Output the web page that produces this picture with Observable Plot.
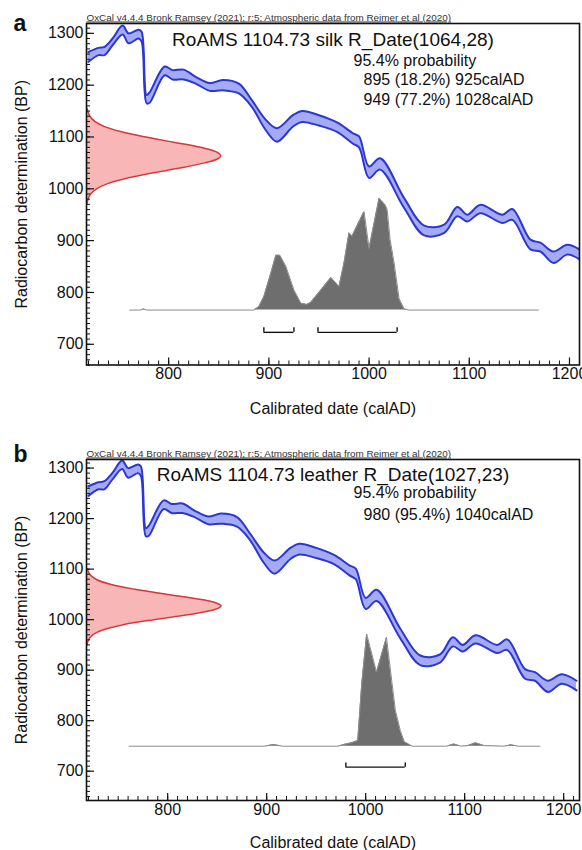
<!DOCTYPE html>
<html>
<head>
<meta charset="utf-8">
<script src="https://cdn.jsdelivr.net/npm/d3@7"></script>
<script src="https://cdn.jsdelivr.net/npm/@observablehq/plot@0.6"></script>
<style>
  body { margin: 0; background: #fff; }
  #chart svg { display: block; }
</style>
</head>
<body>
<div id="chart"></div>
<script>
// ---- IntCal20 calibration curve (band edges, BP) ----
const calYears = [720, 730, 736, 744, 754, 760, 770, 773, 778, 781, 796, 804, 815, 827, 841, 854, 870, 883, 897, 908, 924, 933, 950, 968, 984, 990, 1000, 1011, 1035, 1055, 1075, 1088, 1098, 1111, 1133, 1143, 1161, 1171, 1184, 1198, 1213];
const calUpper = [1264, 1272, 1274, 1290, 1315, 1300, 1307, 1303, 1181, 1186, 1236, 1229, 1230, 1216, 1204, 1210, 1203, 1171, 1133, 1117, 1142, 1150, 1142, 1128, 1107, 1101, 1043, 1059, 982, 929, 931, 965, 950, 969, 950, 961, 902, 896, 879, 892, 879];
const calLower = [1245, 1258, 1258, 1277, 1298, 1281, 1290, 1284, 1165, 1166, 1219, 1211, 1211, 1203, 1189, 1190, 1184, 1158, 1113, 1091, 1120, 1129, 1122, 1110, 1087, 1080, 1021, 1037, 963, 910, 915, 947, 937, 953, 934, 940, 883, 879, 857, 873, 860];

// ---- axis ticks ----
const xTickLabels = [800, 900, 1000, 1100, 1200];
const yTickLabels = [700, 800, 900, 1000, 1100, 1200, 1300];

const header = "OxCal v4.4.4 Bronk Ramsey (2021); r:5; Atmospheric data from Reimer et al (2020)";
const xTitle = "Calibrated date (calAD)";
const yTitle = "Radiocarbon determination (BP)";

// ---- panel a: silk ----
const aTitle = "RoAMS 1104.73 silk R_Date(1064,28)";
const aProbLines = ["95.4% probability", "895 (18.2%) 925calAD", "949 (77.2%) 1028calAD"];
const aRedBP = [1155, 1150, 1140, 1130, 1120, 1110, 1100, 1090, 1080, 1070, 1064, 1058, 1050, 1040, 1030, 1020, 1010, 1000, 990, 980, 970];
const aRedWidth = [0.6, 1.2, 3.4, 8.3, 18, 35, 59, 87, 114, 131, 134, 131, 118, 93, 64, 39, 21, 10, 4, 1.5, 0.4];
const aPostYears = [761, 772, 775, 778, 885, 890, 895, 902, 907, 911, 917, 925, 932, 938, 942, 952, 962, 970, 975, 980, 983, 995, 1000, 1010, 1016, 1018, 1021, 1025, 1030, 1035, 1040, 1169];
const aPostProb = [0, 0, 0.01, 0, 0, 0.03, 0.12, 0.33, 0.49, 0.49, 0.39, 0.18, 0.06, 0.05, 0.07, 0.18, 0.29, 0.21, 0.42, 0.69, 0.66, 0.88, 0.55, 1.0, 0.94, 0.90, 0.63, 0.42, 0.10, 0.01, 0, 0];
const aRangeFrom = [895, 949];
const aRangeTo = [925, 1028];

// ---- panel b: leather ----
const bTitle = "RoAMS 1104.73 leather R_Date(1027,23)";
const bProbLines = ["95.4% probability", "980 (95.4%) 1040calAD"];
const bRedBP = [1100, 1090, 1080, 1070, 1060, 1050, 1040, 1033, 1027, 1021, 1010, 1000, 990, 980, 970, 960, 950];
const bRedWidth = [0.9, 3.2, 9.6, 24, 49, 82, 116, 131, 136, 131, 104, 68, 37, 17, 6.3, 2, 0.5];
const bPostYears = [761, 898, 907, 916, 972, 980, 986, 992, 996, 1001, 1011, 1021, 1030, 1035, 1039, 1047, 1082, 1089, 1096, 1103, 1111, 1120, 1140, 1147, 1154, 1176];
const bPostProb = [0, 0, 0.015, 0, 0, 0.02, 0.03, 0.05, 0.55, 1.0, 0.66, 0.97, 0.32, 0.14, 0.04, 0, 0, 0.02, 0, 0.005, 0.03, 0.005, 0, 0.012, 0, 0];
const bRangeFrom = [980];
const bRangeTo = [1040];

const W = 582;
const FONT = "'Liberation Sans', Arial, Helvetica, sans-serif";
const INK = "#111";

function makePanel(p) {
  const fw = W - p.ml - p.mr;
  const fh = p.h - p.mt - p.mb;
  const x0 = p.xDomain[0];
  const cal = calYears.map((year, i) => ({year, upper: calUpper[i], lower: calLower[i]}));
  const red = p.redBP.map((bp, i) => ({bp, w: p.redW[i]}));
  const post = p.postYears.map((year, i) => ({year, prob: p.postProb[i]}));
  const ranges = p.rangeFrom.map((from, i) => ({from, to: p.rangeTo[i]}));
  const postY = d => p.base + d.prob * p.postH;
  const xMinor = d3.range(Math.ceil(p.xDomain[0] / 10) * 10, p.xDomain[1] + 0.01, 10);
  const yMinor = d3.range(Math.ceil(p.yDomain[0] / 10) * 10, p.yDomain[1] + 0.01, 10);
  const blue = "#2b37d2";

  const probMarks = p.probLines.map((line, i) =>
    Plot.text([line], {frameAnchor: "top-left", lineAnchor: "top", textAnchor: "start",
      dx: p.probDx[i], dy: p.probDy[i], fontSize: 16, fill: INK}));

  const svg = Plot.plot({
    width: W, height: p.h,
    marginTop: p.mt, marginBottom: p.mb, marginLeft: p.ml, marginRight: p.mr,
    x: {domain: p.xDomain, axis: null},
    y: {domain: p.yDomain, axis: null},
    style: {fontFamily: FONT, fontSize: "16px", color: INK, background: "#fff"},
    marks: [
      // measured radiocarbon date (normal distribution on the y axis)
      Plot.areaX(red, {y: "bp", x1: x0, x2: d => x0 + d.w, fill: "#f8b6b6", curve: "catmull-rom"}),
      Plot.lineX(red, {y: "bp", x: d => x0 + d.w, stroke: "#d8383a", strokeWidth: 1.5, curve: "catmull-rom"}),
      // calibration curve band
      Plot.areaY(cal, {x: "year", y1: "lower", y2: "upper", fill: "#a5aaf4", curve: "catmull-rom", clip: true}),
      Plot.lineY(cal, {x: "year", y: "upper", stroke: blue, strokeWidth: 2, curve: "catmull-rom", clip: true}),
      Plot.lineY(cal, {x: "year", y: "lower", stroke: blue, strokeWidth: 2, curve: "catmull-rom", clip: true}),
      // calibrated (posterior) distribution
      Plot.areaY(post, {x: "year", y1: p.base, y2: postY, fill: "#6e6e6e"}),
      Plot.lineY(post, {x: "year", y: postY, stroke: "#8c8c8c", strokeWidth: 1}),
      // 95.4% ranges
      Plot.ruleY(ranges, {y: p.bracketY, x1: "from", x2: "to", stroke: INK, strokeWidth: 1.4}),
      Plot.ruleX(ranges, {x: "from", y1: p.bracketY, y2: p.bracketTop, stroke: INK, strokeWidth: 1.4}),
      Plot.ruleX(ranges, {x: "to", y1: p.bracketY, y2: p.bracketTop, stroke: INK, strokeWidth: 1.4}),
      // inner ticks
      Plot.tickY(yMinor, {y: d => d, insetRight: fw - 4, stroke: INK, strokeWidth: 1}),
      Plot.tickY(yTickLabels, {y: d => d, insetRight: fw - 8, stroke: INK, strokeWidth: 1.2}),
      Plot.tickX(xMinor, {x: d => d, insetTop: fh - 4, stroke: INK, strokeWidth: 1}),
      Plot.tickX(xTickLabels, {x: d => d, insetTop: fh - 7, stroke: INK, strokeWidth: 1.2}),
      // tick labels
      Plot.axisX({ticks: xTickLabels, tickSize: 0, tickPadding: 3, label: null, tickFormat: d => String(d), fontSize: 16}),
      Plot.axisY({ticks: yTickLabels, tickSize: 0, tickPadding: 3, label: null, tickFormat: d => String(d), fontSize: 16}),
      Plot.frame({stroke: INK, strokeWidth: 1.6}),
      // texts
      Plot.text([header], {frameAnchor: "top-left", lineAnchor: "bottom", textAnchor: "start", dy: -3, fontSize: 9.9, fill: "#333"}),
      Plot.text([p.title], {frameAnchor: "top", lineAnchor: "top", textAnchor: "middle", dy: p.titleDy, fontSize: 19, fill: INK}),
      ...probMarks,
      Plot.text([p.label], {frameAnchor: "top-left", lineAnchor: "bottom", textAnchor: "start", dx: -73, dy: p.labelDy, fontSize: 23, fontWeight: "bold", fill: INK}),
      Plot.text([yTitle], {frameAnchor: "left", rotate: -90, lineAnchor: "middle", textAnchor: "middle", dx: -65, fontSize: 16, fill: INK}),
      Plot.text([xTitle], {frameAnchor: "bottom", lineAnchor: "middle", textAnchor: "middle", dy: p.xTitleDy, fontSize: 16, fill: INK})
    ]
  });
  svg.querySelectorAll("text").forEach(t => {
    if (t.textContent.startsWith("OxCal")) t.setAttribute("text-decoration", "underline");
  });
  return svg;
}

const chart = document.getElementById("chart");
chart.appendChild(makePanel({
  label: "a", title: aTitle, probLines: aProbLines,
  probDx: [267, 277, 277], probDy: [31, 50, 70],
  h: 430, mt: 23, mb: 65.5, ml: 86, mr: 3,
  xDomain: [718, 1210], yDomain: [660, 1319],
  redBP: aRedBP, redW: aRedWidth,
  postYears: aPostYears, postProb: aPostProb, base: 766, postH: 216,
  rangeFrom: aRangeFrom, rangeTo: aRangeTo, bracketY: 723, bracketTop: 732,
  titleDy: 8.5, labelDy: 7, xTitleDy: 43.5
}));
chart.appendChild(makePanel({
  label: "b", title: bTitle, probLines: bProbLines,
  probDx: [267, 277], probDy: [27.5, 49],
  h: 420, mt: 29, mb: 50, ml: 86, mr: 3,
  xDomain: [718, 1216], yDomain: [642, 1317],
  redBP: bRedBP, redW: bRedWidth,
  postYears: bPostYears, postProb: bPostProb, base: 749.5, postH: 222,
  rangeFrom: bRangeFrom, rangeTo: bRangeTo, bracketY: 708, bracketTop: 716,
  titleDy: 7.5, labelDy: 2.5, xTitleDy: 42
}));
</script>
</body>
</html>
